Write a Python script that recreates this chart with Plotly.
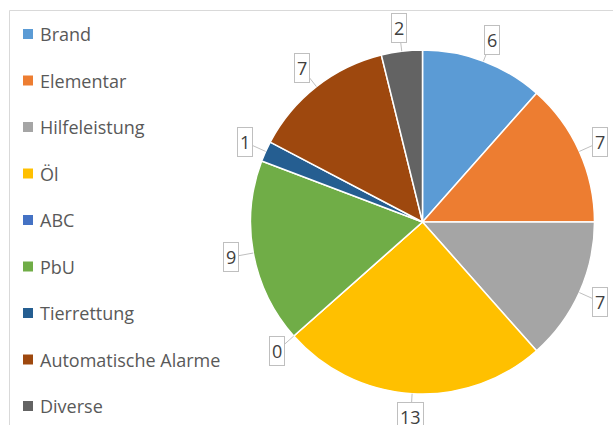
import math
import plotly.graph_objects as go

categories = ["Brand", "Elementar", "Hilfeleistung", "Öl", "ABC", "PbU",
              "Tierrettung", "Automatische Alarme", "Diverse"]
values = [6, 7, 7, 13, 0, 9, 1, 7, 2]
colors = ["#5B9BD5", "#ED7D31", "#A5A5A5", "#FFC000", "#4472C4", "#70AD47",
          "#255E91", "#9E480E", "#636363"]

W, H = 613, 425
CX, CY, R = 422.5, 222.0, 172.0   # pixel geometry of the pie
LABEL_R = 195.0
FONT = "Open Sans"

fig = go.Figure()
fig.add_trace(go.Pie(
    labels=categories, values=values, sort=False, direction="clockwise",
    rotation=0, textinfo="none", hoverinfo="label+value",
    marker=dict(colors=colors, line=dict(color="white", width=1.5)),
    domain=dict(x=[(CX - R) / W, (CX + R) / W],
                y=[(H - CY - R) / H, (H - CY + R) / H]),
    showlegend=False,
))

annotations = []
shapes = []
total = sum(values)
cum = 0
for cat, v in zip(categories, values):
    mid = (cum + v / 2) / total * 2 * math.pi
    cum += v
    s, c = math.sin(mid), math.cos(mid)
    px, py = CX + R * s, CY - R * c
    d = LABEL_R - R
    annotations.append(dict(
        x=px / W, y=1 - py / H, xref="paper", yref="paper",
        text=str(v), showarrow=True, arrowhead=0, arrowwidth=1,
        arrowcolor="#BFBFBF", ax=d * s, ay=-d * c,
        font=dict(family=FONT, size=18, color="#404040"),
        bordercolor="#BFBFBF", borderwidth=1, borderpad=2, bgcolor="white",
    ))

# legend
leg_y0, leg_step = 34.0, 46.5
for i, (cat, col) in enumerate(zip(categories, colors)):
    y = leg_y0 + i * leg_step
    shapes.append(dict(type="rect", xref="paper", yref="paper",
                       x0=23 / W, x1=33 / W, y0=1 - (y + 5) / H, y1=1 - (y - 5) / H,
                       fillcolor=col, line=dict(width=0)))
    annotations.append(dict(
        x=38 / W, y=1 - y / H, xref="paper", yref="paper", xanchor="left",
        yanchor="middle", text=cat, showarrow=False,
        font=dict(family=FONT, size=18, color="#595959"),
    ))

# chart area border (partially visible)
shapes.append(dict(type="rect", xref="paper", yref="paper",
                   x0=9.5 / W, x1=1.2, y0=-0.2, y1=1 - 10.5 / H,
                   line=dict(color="#D9D9D9", width=1), fillcolor="rgba(0,0,0,0)"))

fig.update_layout(
    width=W, height=H, margin=dict(l=0, r=0, t=0, b=0),
    paper_bgcolor="white", plot_bgcolor="white",
    annotations=annotations, shapes=shapes, showlegend=False,
)
fig.write_html("out.html", config={"displayModeBar": False},
               post_script="document.body.style.margin='0';document.body.style.overflow='hidden';")
